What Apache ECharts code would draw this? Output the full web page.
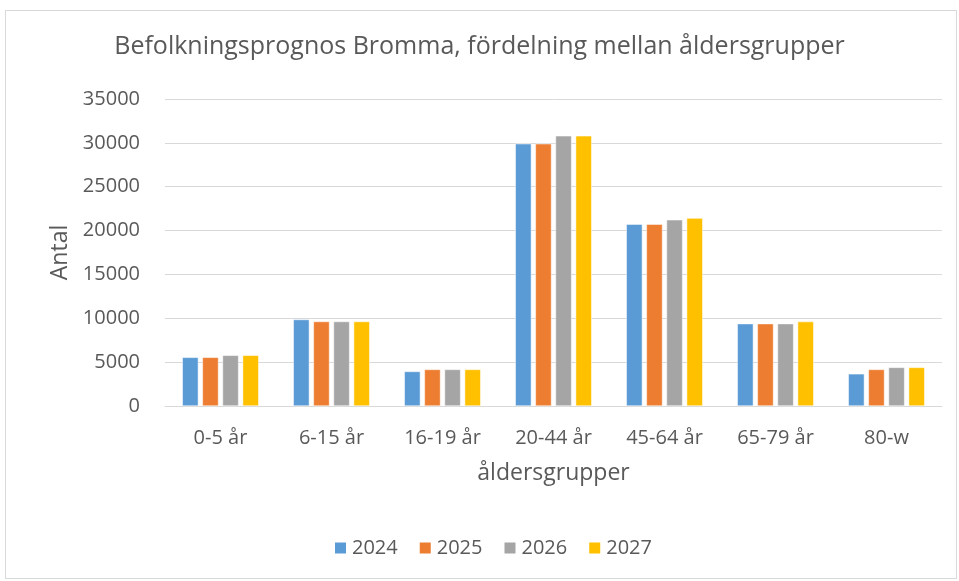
<!DOCTYPE html>
<html>
<head>
<meta charset="utf-8">
<script src="https://cdn.jsdelivr.net/npm/echarts@6/dist/echarts.min.js"></script>
<style>
  html, body { margin: 0; padding: 0; background: #fff; }
  #frame { position: absolute; left: 5px; top: 10px; width: 952px; height: 569px; border: 1px solid #d9d9d9; box-sizing: border-box; }
  #chart { width: 959px; height: 581px; }
</style>
</head>
<body>
<div id="frame"></div>
<div id="chart"></div>
<script>
const categories = ['0-5 år', '6-15 år', '16-19 år', '20-44 år', '45-64 år', '65-79 år', '80-w'];
const years = ['2024', '2025', '2026', '2027'];
const values2024 = [5550, 9860, 3940, 29900, 20730, 9390, 3670];
const values2025 = [5550, 9630, 4170, 29900, 20730, 9390, 4170];
const values2026 = [5780, 9630, 4170, 30800, 21230, 9390, 4400];
const values2027 = [5780, 9630, 4170, 30800, 21420, 9620, 4400];
const colors = ['#5B9BD5', '#ED7D31', '#A5A5A5', '#FFC000'];

const font = '"Open Sans", sans-serif';
const textColor = '#595959';

const chart = echarts.init(document.getElementById('chart'), null, { renderer: 'canvas' });
const seriesData = [values2024, values2025, values2026, values2027];

chart.setOption({
  animation: false,
  color: colors,
  textStyle: { fontFamily: font },
  title: {
    text: 'Befolkningsprognos Bromma, fördelning mellan åldersgrupper',
    left: 'center',
    top: 29,
    textStyle: { fontFamily: font, fontSize: 25, fontWeight: 'normal', color: textColor },
  },
  legend: {
    bottom: 18,
    left: 328,
    itemWidth: 13,
    itemHeight: 13,
    itemGap: 20,
    icon: 'rect',
    textStyle: { fontFamily: font, fontSize: 20, color: textColor },
    data: years,
  },
  grid: { left: 165, right: 17, top: 99, bottom: 175 },
  xAxis: {
    type: 'category',
    data: categories,
    name: 'åldersgrupper',
    nameLocation: 'middle',
    nameGap: 56,
    nameTextStyle: { fontFamily: font, fontSize: 23, color: textColor },
    axisTick: { show: false },
    axisLine: { lineStyle: { color: '#d9d9d9', width: 1 } },
    axisLabel: { fontFamily: font, fontSize: 20, color: textColor, margin: 22 },
  },
  yAxis: {
    type: 'value',
    min: 0,
    max: 35000,
    interval: 5000,
    name: 'Antal',
    nameLocation: 'middle',
    nameGap: 93,
    nameTextStyle: { fontFamily: font, fontSize: 23, color: textColor },
    axisLine: { show: false },
    axisTick: { show: false },
    axisLabel: { fontFamily: font, fontSize: 20, color: textColor, margin: 25, formatter: (v) => String(v) },
    splitLine: { lineStyle: { color: '#d9d9d9', width: 1 } },
  },
  series: years.map((y, i) => ({
    name: y,
    type: 'bar',
    data: seriesData[i],
    barWidth: '14.5%',
    barGap: '25%',
    itemStyle: { borderColor: '#ffffff', borderWidth: 0.5 },
  })),
});
</script>
</body>
</html>
